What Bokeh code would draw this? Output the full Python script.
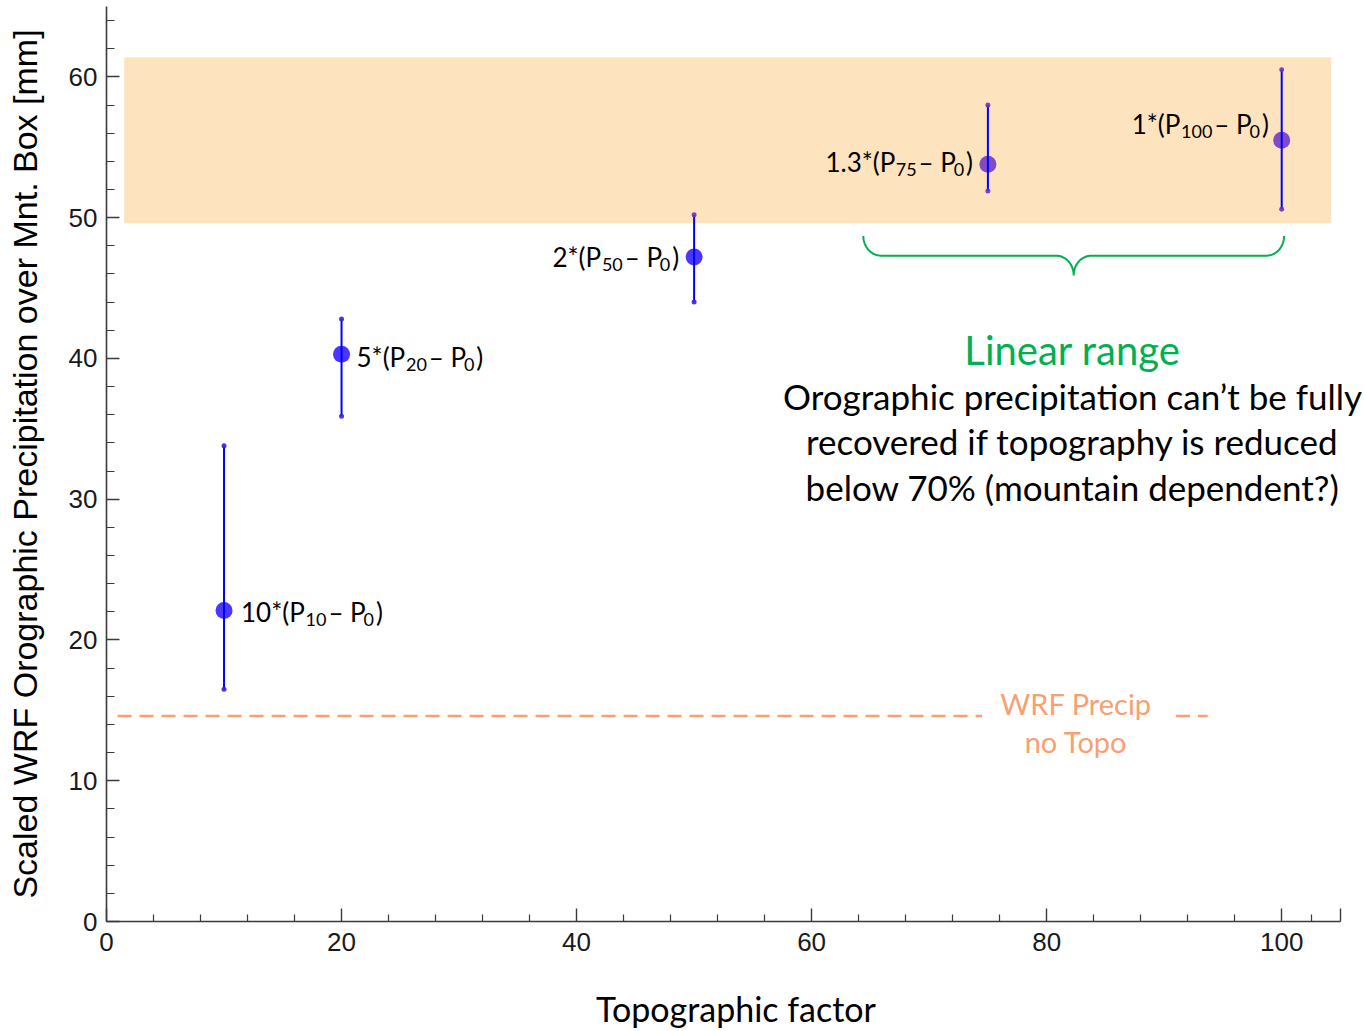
from bokeh.plotting import figure
from bokeh.models import FixedTicker, CustomJSTickFormatter, ColumnDataSource, LinearAxis
from bokeh.core.properties import value
from bokeh.embed import file_html
from bokeh.resources import INLINE
import numpy as np

# ---------------- data ----------------
topo_factor = [10, 20, 50, 75, 100]
precip = [22.1, 40.3, 47.2, 53.8, 55.5]
precip_low = [16.5, 35.9, 44.0, 51.9, 50.6]
precip_high = [33.8, 42.8, 50.2, 58.0, 60.5]
scale_factor = ["10", "5", "2", "1.3", "1"]
subscript = ["10", "20", "50", "75", "100"]

no_topo_precip = 14.6
no_topo_x0 = [0.94, 91.0]
no_topo_x1 = [74.5, 93.7]

band_x = [1.5, 104.2]
band_y = [49.6, 61.4]

brace_x = [64.4, 100.2]
brace_y = [48.7, 45.9]

x_axis_end = 105
x_ticks = [0, 20, 40, 60, 80, 100, 105]
x_minor = [4, 8, 12, 16, 24, 28, 32, 36, 44, 48, 52, 56, 64, 68, 72, 76,
           84, 88, 92, 96, 102.5]
y_ticks = [0, 10, 20, 30, 40, 50, 60]
y_minor = [2, 4, 6, 8, 12, 14, 16, 18, 22, 24, 26, 28, 32, 34, 36, 38,
           42, 44, 46, 48, 52, 54, 56, 58, 62, 64]

FONT = "Lato"
BLUE = "#0000FF"
GREEN = "#00B050"
ORANGE = "#F7A172"
AXIS = "#3a3a3a"

# frame runs to the right edge so the long annotation line is not clipped;
# the x-axis itself is bounded to 0..105
p = figure(width=1365, height=1031, x_range=(0, 107.13), y_range=(0, 65),
           output_backend="svg", toolbar_location=None,
           min_border_left=106, min_border_right=0, min_border_top=6,
           min_border_bottom=110)
p.outline_line_color = None
p.xgrid.visible = False
p.ygrid.visible = False
p.background_fill_color = "white"

for ax in (p.xaxis[0], p.yaxis[0]):
    ax.axis_line_color = AXIS
    ax.axis_line_width = 1.6
    ax.major_tick_line_color = AXIS
    ax.minor_tick_line_color = AXIS
    ax.major_tick_line_width = 1.4
    ax.minor_tick_line_width = 1.2
    ax.major_tick_out = 0
    ax.minor_tick_out = 0
    ax.major_label_text_font = "Liberation Sans"
    ax.major_label_text_font_size = "26px"
    ax.major_label_text_color = "#1a1a1a"

p.xaxis.bounds = (0, x_axis_end)
p.xaxis.ticker = FixedTicker(ticks=x_ticks, minor_ticks=x_minor)
p.xaxis.formatter = CustomJSTickFormatter(code="return tick > 100 ? '' : tick.toFixed(0);")
p.xaxis.major_tick_in = 13
p.xaxis.minor_tick_in = 7
p.xaxis.major_label_standoff = 11

# second (invisible) axis that only carries the x-axis title
title_axis = LinearAxis(bounds=(0, x_axis_end), ticker=FixedTicker(ticks=[]),
                        axis_line_color=None, major_tick_line_color=None,
                        minor_tick_line_color=None, major_tick_in=0,
                        major_tick_out=0, minor_tick_in=0, minor_tick_out=0,
                        major_label_standoff=0,
                        axis_label="Topographic factor",
                        axis_label_text_font=FONT,
                        axis_label_text_font_size="34px",
                        axis_label_text_font_style="normal",
                        axis_label_text_color="black",
                        axis_label_standoff=34)
p.add_layout(title_axis, "below")

p.yaxis.ticker = FixedTicker(ticks=y_ticks, minor_ticks=y_minor)
p.yaxis.major_tick_in = 13
p.yaxis.minor_tick_in = 8
p.yaxis.major_label_standoff = 9
p.yaxis.axis_label = "Scaled WRF Orographic Precipitation over Mnt. Box [mm]"
p.yaxis.axis_label_text_font = "Liberation Sans"
p.yaxis.axis_label_text_font_size = "34px"
p.yaxis.axis_label_text_font_style = "normal"
p.yaxis.axis_label_text_color = "black"
p.yaxis.axis_label_standoff = 22

# shaded band
p.quad(left=[band_x[0]], right=[band_x[1]], bottom=[band_y[0]], top=[band_y[1]],
       fill_color="#FDE4BF", line_color=None)

# no-topo dashed line
p.segment(x0=no_topo_x0, y0=[no_topo_precip] * 2, x1=no_topo_x1,
          y1=[no_topo_precip] * 2, line_color=ORANGE, line_width=2.5,
          line_dash="14 8")
p.text(x=[82.5, 82.5], y=[15.5, 12.8], text=["WRF Precip", "no Topo"],
       text_font=value(FONT), text_font_size="29px", text_color=ORANGE,
       text_align="center", text_baseline="middle")

# points and error bars (points inside the shaded band look purple)
pt_color = ["#6b30c4" if band_y[0] <= v <= band_y[1] else "#2a14ff" for v in precip]
lo_color = ["#6b30c4" if band_y[0] <= v <= band_y[1] else "#3a20e0" for v in precip_low]
hi_color = ["#6b30c4" if band_y[0] <= v <= band_y[1] else "#3a20e0" for v in precip_high]
src = ColumnDataSource(dict(x=topo_factor, y=precip, lo=precip_low, hi=precip_high,
                            pc=pt_color, lc=lo_color, hc=hi_color))
p.scatter(x="x", y="y", source=src, size=17, fill_color="pc",
          fill_alpha=0.85, line_color=None)
p.segment(x0="x", y0="lo", x1="x", y1="hi", source=src, line_color=BLUE,
          line_width=2)
p.scatter(x="x", y="lo", source=src, size=5, fill_color="lc",
          fill_alpha=0.9, line_color=None)
p.scatter(x="x", y="hi", source=src, size=5, fill_color="hc",
          fill_alpha=0.9, line_color=None)

# point labels with subscripts, built from pieces
WID = {c: 0.58 for c in "0123456789"}
WID.update({"*": 0.42, "(": 0.30, ")": 0.30, "P": 0.60, ".": 0.22,
            "–": 0.56, " ": 0.19})
S_MAIN, S_SUB = 26, 18


def tw(t, s):
    return sum(WID.get(c, 0.55) for c in t) * s


# (horizontal anchor offset px, align, vertical offset px)
anchors = [(17, "left", 2), (15, "left", 3), (-14, "right", 0),
           (-14, "right", -2), (-12, "right", -16)]
main = dict(x=[], y=[], text=[], xo=[], yo=[])
sub = dict(x=[], y=[], text=[], xo=[], yo=[])
for i in range(len(topo_factor)):
    parts = [(scale_factor[i] + "*(P", "m"), (subscript[i], "s"),
             ("– P", "m"), ("0", "s"), (")", "m")]
    widths = []
    for t, k in parts:
        w = tw(t, S_MAIN if k == "m" else S_SUB)
        if k == "s":
            w += 2
        widths.append(w)
    total = sum(widths)
    ax_off, align, vy = anchors[i]
    start = ax_off if align == "left" else ax_off - total
    cum = start
    for (t, k), w in zip(parts, widths):
        d = main if k == "m" else sub
        d["x"].append(topo_factor[i])
        d["y"].append(precip[i])
        d["text"].append(t)
        d["xo"].append(cum)
        d["yo"].append(vy if k == "m" else vy + 7)
        cum += w

p.text(x="x", y="y", text="text", x_offset="xo", y_offset="yo",
       source=ColumnDataSource(main), text_font=value(FONT),
       text_font_size=f"{S_MAIN}px", text_color="black",
       text_align="left", text_baseline="middle")
p.text(x="x", y="y", text="text", x_offset="xo", y_offset="yo",
       source=ColumnDataSource(sub), text_font=value(FONT),
       text_font_size=f"{S_SUB}px", text_color="black",
       text_align="left", text_baseline="middle")

# green brace
rx, ry = 1.5, (brace_y[0] - brace_y[1]) / 2.0
xa, xb = brace_x
xc = (xa + xb) / 2.0
yb = brace_y[1]
t = np.linspace(0, np.pi / 2, 20)
seg1x = xa + rx - rx * np.cos(t)
seg1y = brace_y[0] - ry * np.sin(t)
seg2x = xc - rx + rx * np.sin(t)
seg2y = yb + ry * np.cos(t)
bx = np.concatenate([seg1x, seg2x, (2 * xc - seg2x)[::-1], (2 * xc - seg1x)[::-1]])
by = np.concatenate([seg1y, seg2y, seg2y[::-1], seg1y[::-1]])
p.line(x=bx, y=by, line_color=GREEN, line_width=2)

p.text(x=[82.2], y=[40.6], text=["Linear range"], text_font=value(FONT),
       text_font_size="40px", text_color=GREEN, text_align="center",
       text_baseline="middle")
p.text(x=[82.2, 82.2, 82.2], y=[37.3, 34.1, 30.9],
       text=["Orographic precipitation can’t be fully",
             "recovered if topography is reduced",
             "below 70% (mountain dependent?)"],
       text_font=value(FONT), text_font_size="35px", text_color="black",
       text_align="center", text_baseline="middle")

open("out.html", "w").write(file_html(p, INLINE))
